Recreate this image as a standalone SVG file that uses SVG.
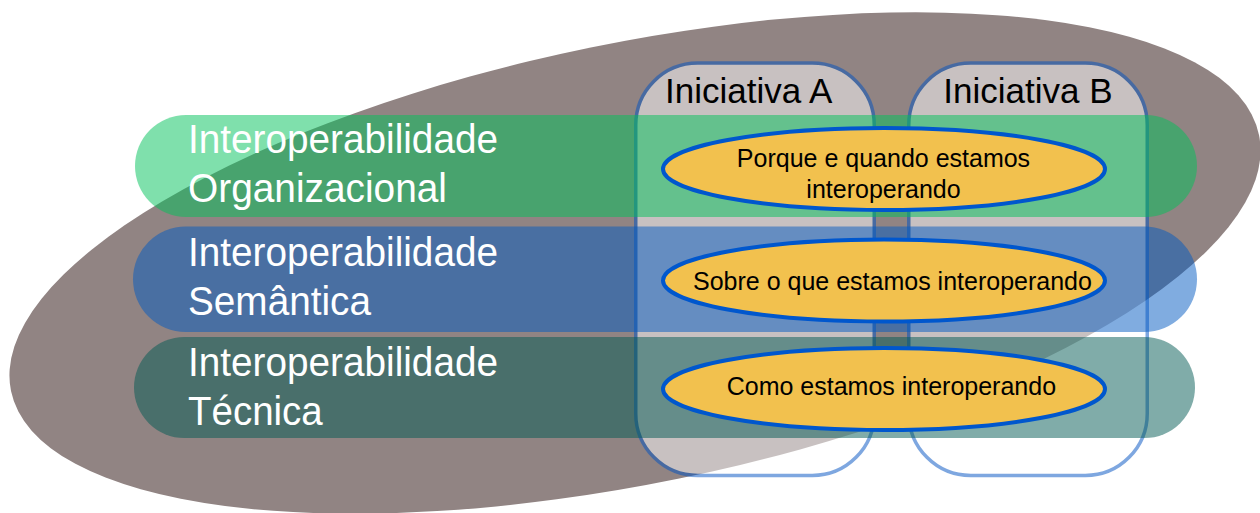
<svg xmlns="http://www.w3.org/2000/svg" width="1260" height="513" viewBox="0 0 1260 513">
<style>
  .init{fill:#ffffff;stroke:#0052c2;stroke-width:3.5;opacity:0.5}
  .band{opacity:0.5}
  .q{fill:#f2c14e;stroke:#0057cd;stroke-width:4}
  .lbl{font-family:"Liberation Sans",Arial,sans-serif;fill:#ffffff;font-size:40.5px}
  .ttl{font-family:"Liberation Sans",Arial,sans-serif;fill:#000000;font-size:35px}
  .qt{font-family:"Liberation Sans",Arial,sans-serif;fill:#000000;font-size:25px}
</style>
<rect x="0" y="0" width="1260" height="513" fill="#ffffff"/>
<g id="escopo">
  <ellipse cx="635" cy="263" rx="637" ry="220" transform="rotate(-11.6 635 263)" fill="#918483"/>
</g>
<g id="iniciativa-a">
  <rect class="init" x="635.75" y="63" width="238.5" height="412.5" rx="62" ry="62"/>
  <text class="ttl" x="665" y="103.3">Iniciativa A</text>
</g>
<g id="iniciativa-b">
  <rect class="init" x="908.75" y="63" width="238.5" height="412.5" rx="62" ry="62"/>
  <text class="ttl" x="943.3" y="103.3">Iniciativa B</text>
</g>
<g id="organizacional">
  <rect class="band" x="135" y="115" width="1062" height="102" rx="51" ry="51" fill="#00c159"/>
  <text class="lbl" x="188" y="152.5" textLength="310" lengthAdjust="spacingAndGlyphs">Interoperabilidade</text>
  <text class="lbl" x="188" y="201.5" textLength="259" lengthAdjust="spacingAndGlyphs">Organizacional</text>
</g>
<g id="semantica">
  <rect class="band" x="133" y="226.5" width="1064" height="105.5" rx="52.75" ry="52.75" fill="#0159c1"/>
  <text class="lbl" x="188" y="265.5" textLength="310" lengthAdjust="spacingAndGlyphs">Interoperabilidade</text>
  <text class="lbl" x="188" y="315" textLength="183" lengthAdjust="spacingAndGlyphs">Semântica</text>
</g>
<g id="tecnica">
  <rect class="band" x="134" y="337" width="1061" height="101" rx="50.5" ry="50.5" fill="#015953"/>
  <text class="lbl" x="188" y="376" textLength="310" lengthAdjust="spacingAndGlyphs">Interoperabilidade</text>
  <text class="lbl" x="188" y="425" textLength="134.7" lengthAdjust="spacingAndGlyphs">Técnica</text>
</g>
<g id="porque">
  <ellipse class="q" cx="884" cy="169" rx="221" ry="41"/>
  <text class="qt" x="883.5" y="167.3" text-anchor="middle">Porque e quando estamos</text>
  <text class="qt" x="883.5" y="198.3" text-anchor="middle">interoperando</text>
</g>
<g id="sobre">
  <ellipse class="q" cx="884" cy="280.5" rx="221" ry="41"/>
  <text class="qt" x="693" y="290">Sobre o que estamos interoperando</text>
</g>
<g id="como">
  <ellipse class="q" cx="884" cy="389" rx="221" ry="41"/>
  <text class="qt" x="726.7" y="395">Como estamos interoperando</text>
</g>
<g id="connectors"></g>
</svg>
